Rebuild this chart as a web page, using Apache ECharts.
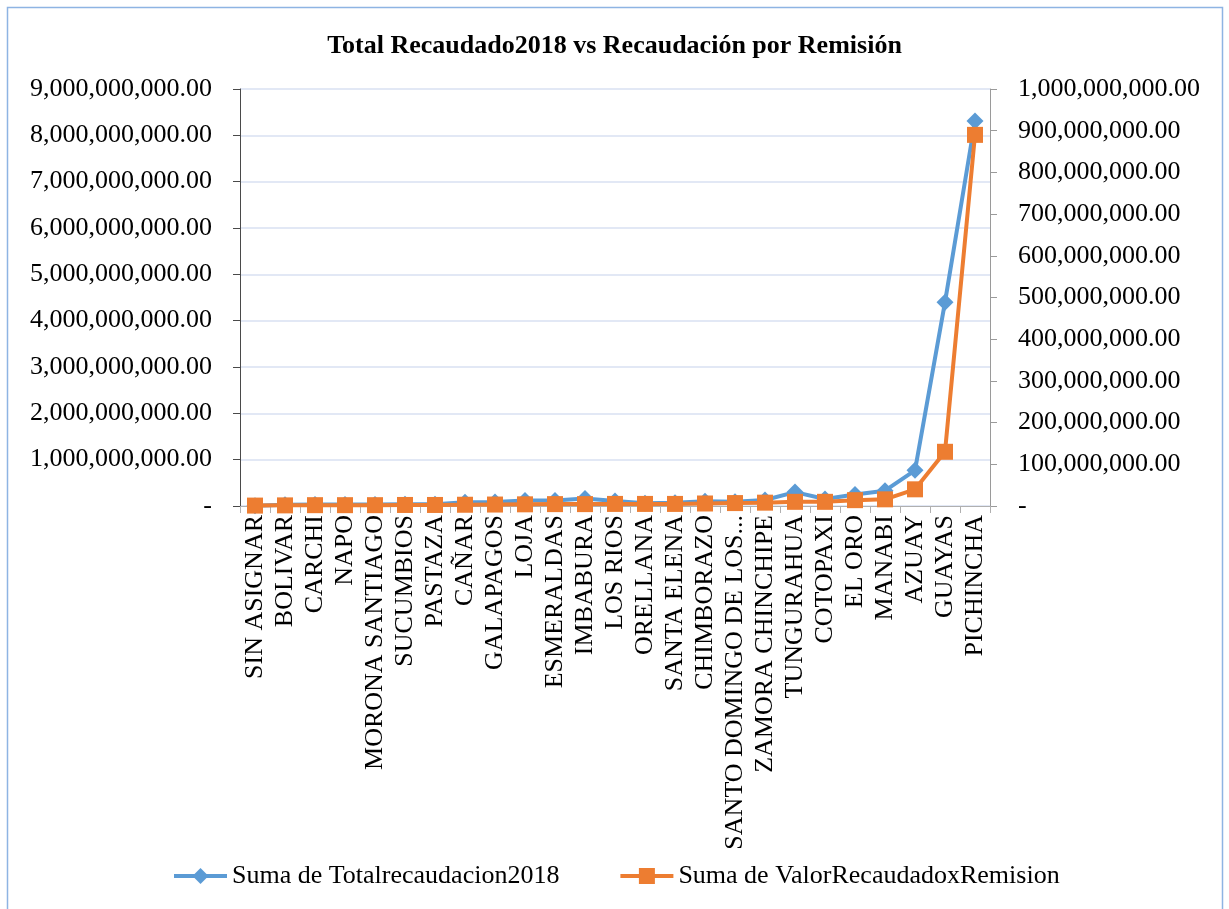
<!DOCTYPE html>
<html>
<head>
<meta charset="utf-8">
<script src="https://cdn.jsdelivr.net/npm/echarts@6/dist/echarts.min.js"></script>
<style>
  html, body { margin: 0; padding: 0; background: #fff; }
  #chart { width: 1229px; height: 909px; }
</style>
</head>
<body>
<div id="chart"></div>
<script>
// Provinces, ordered by total collection
const provincias = [
  'SIN ASIGNAR', 'BOLIVAR', 'CARCHI', 'NAPO', 'MORONA SANTIAGO', 'SUCUMBIOS',
  'PASTAZA', 'CAÑAR', 'GALAPAGOS', 'LOJA', 'ESMERALDAS', 'IMBABURA', 'LOS RIOS',
  'ORELLANA', 'SANTA ELENA', 'CHIMBORAZO', 'SANTO DOMINGO DE LOS...',
  'ZAMORA CHINCHIPE', 'TUNGURAHUA', 'COTOPAXI', 'EL ORO', 'MANABI', 'AZUAY',
  'GUAYAS', 'PICHINCHA'
];

// Suma de Totalrecaudacion2018 (left axis)
const totalRecaudacion2018 = [
  8e6, 25e6, 30e6, 32e6, 35e6, 40e6, 40e6, 80e6, 85e6, 120e6, 120e6, 160e6,
  110e6, 60e6, 70e6, 100e6, 90e6, 130e6, 300e6, 150e6, 250e6, 330e6, 770e6,
  4400e6, 8310e6
];

// Suma de ValorRecaudadoxRemision (right axis)
const valorRecaudadoxRemision = [
  1e6, 1.5e6, 2e6, 2e6, 2e6, 2.5e6, 2.5e6, 3e6, 3.5e6, 4e6, 4.5e6, 4.5e6,
  5e6, 5e6, 5e6, 6e6, 7e6, 8e6, 10e6, 10e6, 14e6, 16e6, 40e6, 130e6, 890e6
];

const serieNames = ['Suma de Totalrecaudacion2018', 'Suma de ValorRecaudadoxRemision'];
const chartTitle = 'Total Recaudado2018 vs Recaudación por Remisión';

const FONT = "'Liberation Serif', 'Times New Roman', serif";

function fmtMoney(v) {
  if (v === 0) return '-';
  return v.toLocaleString('en-US', { minimumFractionDigits: 2, maximumFractionDigits: 2 });
}

const chart = echarts.init(document.getElementById('chart'), null, { renderer: 'canvas' });

chart.setOption({
  animation: false,
  backgroundColor: '#ffffff',
  textStyle: { fontFamily: FONT, color: '#000' },
  graphic: [{
    type: 'rect',
    shape: { x: 7.5, y: 7.5, width: 1215, height: 920 },
    style: { fill: null, stroke: '#8eb4e3', lineWidth: 1.5 },
    silent: true,
    z: -1
  }],
  title: {
    text: chartTitle,
    left: 'center',
    top: 28,
    textStyle: { fontFamily: FONT, fontSize: 26, fontWeight: 'bold', color: '#000' }
  },
  legend: {
    data: serieNames,
    left: 167,
    top: 858,
    itemWidth: 53,
    itemHeight: 20,
    itemGap: 59,
    lineStyle: { width: 4 },
    textStyle: { fontFamily: FONT, fontSize: 26, color: '#000' }
  },
  grid: { left: 240, right: 239, top: 89, bottom: 403 },
  xAxis: {
    type: 'category',
    data: provincias,
    boundaryGap: true,
    axisLine: { lineStyle: { color: '#b0b0b0', width: 1 } },
    axisTick: { show: true, length: 7, interval: 0, lineStyle: { color: '#b0b0b0' } },
    axisLabel: {
      interval: 0,
      rotate: 90,
      margin: 9,
      fontFamily: FONT,
      fontSize: 26,
      color: '#000'
    }
  },
  yAxis: [
    {
      type: 'value',
      min: 0,
      max: 9e9,
      interval: 1e9,
      position: 'left',
      axisLine: { show: true, lineStyle: { color: '#4a4a4a', width: 1 } },
      axisTick: { show: true, length: 7, lineStyle: { color: '#4a4a4a' } },
      splitLine: { show: true, lineStyle: { color: '#d9e1f2', width: 1.5 } },
      axisLabel: {
        margin: 28,
        fontFamily: FONT,
        fontSize: 26,
        color: '#000',
        formatter: fmtMoney
      }
    },
    {
      type: 'value',
      min: 0,
      max: 1e9,
      interval: 1e8,
      position: 'right',
      axisLine: { show: true, lineStyle: { color: '#9a9a9a', width: 1 } },
      axisTick: { show: true, length: 7, lineStyle: { color: '#9a9a9a' } },
      splitLine: { show: false },
      axisLabel: {
        margin: 28,
        fontFamily: FONT,
        fontSize: 26,
        color: '#000',
        formatter: fmtMoney
      }
    }
  ],
  series: [
    {
      name: serieNames[0],
      type: 'line',
      yAxisIndex: 0,
      data: totalRecaudacion2018,
      symbol: 'diamond',
      symbolSize: 17,
      showAllSymbol: true,
      itemStyle: { color: '#5b9bd5' },
      lineStyle: { color: '#5b9bd5', width: 4 },
      z: 2
    },
    {
      name: serieNames[1],
      type: 'line',
      yAxisIndex: 1,
      data: valorRecaudadoxRemision,
      symbol: 'rect',
      symbolSize: 16,
      showAllSymbol: true,
      itemStyle: { color: '#ed7d31' },
      lineStyle: { color: '#ed7d31', width: 4 },
      z: 3
    }
  ]
});
</script>
</body>
</html>
